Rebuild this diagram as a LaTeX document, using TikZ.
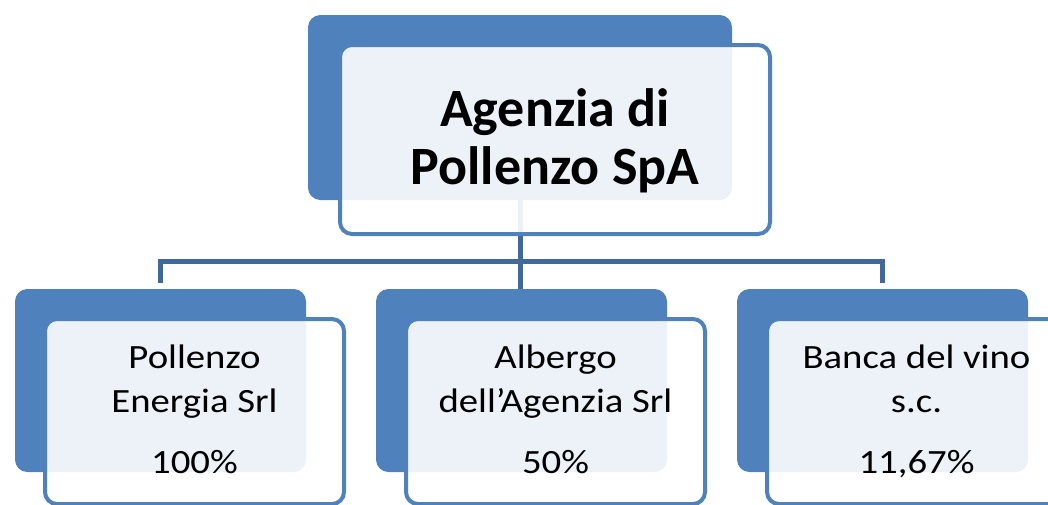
\documentclass[tikz,border=0pt]{standalone}
\usepackage{fontspec}
\setmainfont{Carlito}
\newfontfamily\largofont[FakeStretch=1.14]{Carlito}
\usetikzlibrary{positioning,calc}
\definecolor{bluscatola}{HTML}{4F81BD}
\definecolor{bluLinea}{HTML}{41699A}

\begin{document}
\begin{tikzpicture}[
    x=0.5pt, y=-0.5pt,
    retro/.style={rectangle, rounded corners=6pt, fill=bluscatola, draw=bluscatola, line width=0.5pt, minimum width=145pt, minimum height=91pt},
    fronte/.style={rectangle, rounded corners=6pt, draw=bluscatola, line width=2pt, fill=white, fill opacity=0.9, draw opacity=1, minimum width=149.5pt, minimum height=92.5pt},
    testo/.style={align=center, anchor=base, font=\largofont\fontsize{17pt}{22pt}\selectfont},
    titolo/.style={align=center, anchor=base, font=\fontsize{27pt}{29pt}\selectfont\bfseries},
    conn/.style={draw=bluLinea, line width=2.5pt}
]
\useasboundingbox (0,0) rectangle (1048,504);
\clip (0,0) rectangle (1048,504);

% Scatole dietro
\node[retro, anchor=north west, minimum width=211.5pt, minimum height=92pt] (capo_retro) at (308,15) {};
\node[retro, anchor=north west] (pollenzo_retro) at (15,289) {};
\node[retro, right=35pt of pollenzo_retro] (albergo_retro) {};
\node[retro, right=35pt of albergo_retro] (banca_retro) {};

% Collegamenti
\coordinate (bus) at ($(capo_retro.south)+(0,61)$);
\draw[conn] (capo_retro.south) -- (capo_retro.south |- albergo_retro.north);
\draw[conn, shorten <=3pt, shorten >=3pt] (pollenzo_retro.north) -- (pollenzo_retro.north |- bus) -- (banca_retro.north |- bus) -- (banca_retro.north);

% Scatole davanti
\node[fronte, minimum width=215pt, minimum height=94.5pt, below right=14pt and 15pt of capo_retro.north west] (capo) {};
\node[fronte, below right=14pt and 14pt of pollenzo_retro.north west] (pollenzo) {};
\node[fronte, below right=14pt and 14pt of albergo_retro.north west] (albergo) {};
\node[fronte, below right=14pt and 14pt of banca_retro.north west] (banca) {};

% Testi
\node[titolo] (capo_testo) at ($(capo.north)+(0,141)$) {Agenzia di\\Pollenzo SpA};
\node[testo] (pollenzo_testo) at ($(pollenzo.north)+(0,156)$) {Pollenzo\\Energia Srl\\[8.5pt]100\%};
\node[testo] (albergo_testo) at ($(albergo.north)+(0,156)$) {Albergo\\dell’Agenzia Srl\\[8.5pt]50\%};
\node[testo] (banca_testo) at ($(banca.north)+(0,156)$) {Banca del vino\\s.c.\\[8.5pt]11,67\%};

\end{tikzpicture}
\end{document}
